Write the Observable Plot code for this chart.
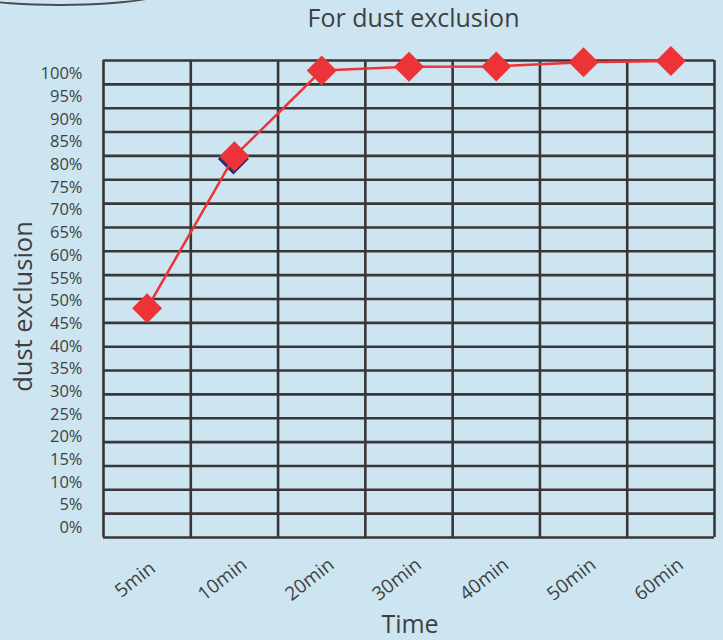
<!DOCTYPE html>
<html>
<head>
<meta charset="utf-8">
<script src="https://cdn.jsdelivr.net/npm/d3@7"></script>
<script src="https://cdn.jsdelivr.net/npm/@observablehq/plot@0.6"></script>
<style>
  html, body { margin: 0; padding: 0; background: #cde5f0; }
  #wrap { position: relative; width: 723px; height: 640px; overflow: hidden; }
  #arc { position: absolute; left: -70px; top: -42px; width: 260px; height: 46px;
         border-bottom: 2px solid #4a4a4a; border-radius: 50%; }
  svg { display: block; }
</style>
</head>
<body>
<div id="wrap"><div id="arc"></div><div id="chart"></div></div>
<script>
const title = "For dust exclusion";
const xTitle = "Time";
const yTitle = "dust exclusion";
const categories = ["5min", "10min", "20min", "30min", "40min", "50min", "60min"];
const values = [48.4, 81.9, 100.8, 101.6, 101.7, 102.6, 102.9];
const hiddenCategories = ["10min"];
const hiddenValues = [81.3];
const yTicks = [0, 5, 10, 15, 20, 25, 30, 35, 40, 45, 50, 55, 60, 65, 70, 75, 80, 85, 90, 95, 100];
const yDomain = [-2.14, 103.0];
const gridRows = 20;

const data = categories.map((c, i) => ({cat: c, xi: i + 0.5, v: values[i]}));
const hidden = hiddenCategories.map((c, i) => ({xi: categories.indexOf(c) + 0.5, v: hiddenValues[i]}));
const gridY = d3.range(gridRows + 1).map(i => yDomain[0] + i * (yDomain[1] - yDomain[0]) / gridRows);
const gridX = d3.range(categories.length + 1);

const red = "#ee3338";
const gridColor = "#3a3637";
const textColor = "#3f3f3f";
const font = "'Open Sans', 'Noto Sans', sans-serif";

const chart = Plot.plot({
  width: 723,
  height: 640,
  marginTop: 60,
  marginBottom: 103,
  marginLeft: 103,
  marginRight: 9,
  style: {background: "transparent", fontFamily: font, fontSize: "16.5px", color: textColor},
  x: {domain: [0, categories.length], axis: null},
  y: {domain: yDomain, ticks: yTicks, tickFormat: d => d + "%", tickSize: 0, tickPadding: 21, label: null},
  marks: [
    Plot.ruleY(gridY, {stroke: gridColor, strokeWidth: 2.6, strokeOpacity: 1}),
    Plot.ruleX(gridX, {stroke: gridColor, strokeWidth: 2.6, strokeOpacity: 1}),
    Plot.dot(hidden, {x: "xi", y: "v", dx: -1, symbol: "diamond2", r: 13, fill: "#2b3a8c", stroke: "#1f2a6e"}),
    Plot.line(data, {x: "xi", y: "v", stroke: red, strokeWidth: 2.5}),
    Plot.dot(data, {x: "xi", y: "v", symbol: "diamond2", r: 13.5, fill: red, stroke: "none"}),
    Plot.text(data, {x: "xi", text: "cat", frameAnchor: "bottom", dy: 42, dx: -12, rotate: -38,
                     fontSize: 19, fill: textColor, textAnchor: "middle", lineAnchor: "middle"}),
    Plot.text([title], {frameAnchor: "top", dy: -42, dx: 4.5, fontSize: 25, fill: textColor,
                        textAnchor: "middle", lineAnchor: "middle"}),
    Plot.text([xTitle], {frameAnchor: "bottom", dy: 87, dx: 1, fontSize: 25, fill: textColor,
                         textAnchor: "middle", lineAnchor: "middle"}),
    Plot.text([yTitle], {frameAnchor: "left", dx: -80, dy: 7.5, rotate: -90, fontSize: 25.5, fill: textColor,
                         textAnchor: "middle", lineAnchor: "middle"})
  ]
});
document.getElementById("chart").appendChild(chart);
</script>
</body>
</html>
